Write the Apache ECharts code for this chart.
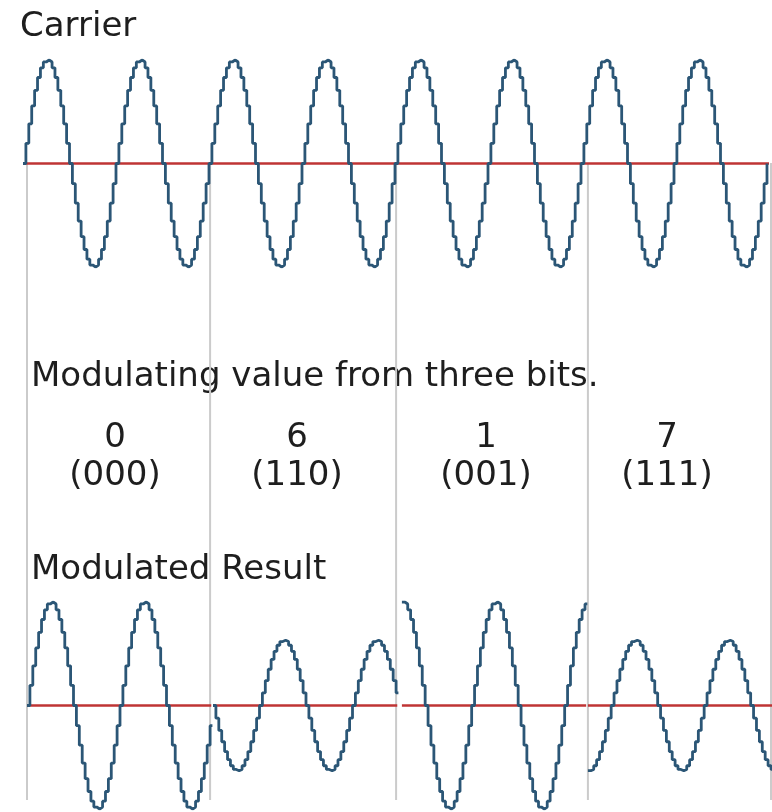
<!DOCTYPE html>
<html>
<head>
<meta charset="utf-8">
<script src="https://cdn.jsdelivr.net/npm/echarts@6/dist/echarts.min.js"></script>
<style>
  html, body { margin: 0; padding: 0; background: #fff; }
  #chart { width: 772px; height: 812px; }
</style>
</head>
<body>
<div id="chart"></div>
<script>
// one carrier period, 32 samples
const carrierPeriod = [
  0, 0.195, 0.383, 0.556, 0.707, 0.831, 0.924, 0.981,
  1, 0.981, 0.924, 0.831, 0.707, 0.556, 0.383, 0.195,
  0, -0.195, -0.383, -0.556, -0.707, -0.831, -0.924, -0.981,
  -1, -0.981, -0.924, -0.831, -0.707, -0.556, -0.383, -0.195
]
const carrierCycles = 8

// the four symbols
const symbolValues = ['0', '6', '1', '7']
const symbolBits = ['(000)', '(110)', '(001)', '(111)']
const symbolAmplitude = [1, 0.63, 1, 0.63]
const symbolPhase = [0, 16, 8, 24]        // offset into carrierPeriod (samples)
const symbolStart = [0, 64, 129, 193]     // sample where each symbol starts
const samplesPerSymbol = 64
const boundaries = [0, 63, 127, 193, 256] // grey separators, in samples

const titles = ['Carrier', 'Modulating value from three bits.', 'Modulated Result']

const chart = echarts.init(document.getElementById('chart'))

const WAVE = '#2b5676'
const RED = '#bf3434'
const GREY = '#cbcbcb'
const FONT = '34px "DejaVu Sans"'
const INK = '#1e1e1e'

// carrier points
const carrierData = []
for (let k = 0; k <= carrierCycles * carrierPeriod.length; k++) {
  carrierData.push([k, carrierPeriod[k % carrierPeriod.length]])
}

const waveSeries = (name, data, xi) => ({
  name, type: 'line', xAxisIndex: xi, yAxisIndex: xi,
  data, step: 'end', symbol: 'none', silent: true, z: 5,
  lineStyle: { color: WAVE, width: 2.8 }
})
const redSeries = (data, xi) => ({
  type: 'line', xAxisIndex: xi, yAxisIndex: xi, data,
  symbol: 'none', silent: true, z: 3,
  lineStyle: { color: RED, width: 2.4 }
})

const series = [
  redSeries([[0, 0], [257, 0]], 0),
  waveSeries('carrier', carrierData, 0)
]

symbolValues.forEach((v, i) => {
  const pts = []
  for (let k = 0; k < samplesPerSymbol; k++) {
    const y = symbolAmplitude[i] * carrierPeriod[(k + symbolPhase[i]) % carrierPeriod.length]
    pts.push([symbolStart[i] + k, y])
  }
  pts.push([symbolStart[i] + samplesPerSymbol - 0.2, pts[pts.length - 1][1]])
  series.push(redSeries([[symbolStart[i], 0], [symbolStart[i] + samplesPerSymbol - 0.6, 0]], 1))
  series.push(waveSeries('symbol ' + v, pts, 1))
})

boundaries.forEach((b) => {
  series.push({
    type: 'line', xAxisIndex: 2, yAxisIndex: 2,
    data: [[b, 0], [b, 1]], symbol: 'none', silent: true, z: 1,
    lineStyle: { color: GREY, width: 2 }
  })
})

const hiddenAxis = (extra) => Object.assign({
  type: 'value', show: false, splitLine: { show: false }
}, extra)

const labelX = [115, 297, 486, 667]
const graphic = [
  { type: 'text', left: 20, top: 10, style: { text: titles[0], font: FONT, fill: INK } },
  { type: 'text', left: 31, top: 360, style: { text: titles[1], font: FONT, fill: INK } },
  { type: 'text', left: 31, top: 553, style: { text: titles[2], font: FONT, fill: INK } }
]
symbolValues.forEach((v, i) => {
  graphic.push({ type: 'text', x: labelX[i], y: 421,
    style: { text: v, font: FONT, fill: INK, align: 'center', verticalAlign: 'top' } })
  graphic.push({ type: 'text', x: labelX[i], y: 459,
    style: { text: symbolBits[i], font: FONT, fill: INK, align: 'center', verticalAlign: 'top' } })
})

const option = {
  animation: false,
  backgroundColor: '#fff',
  grid: [
    { left: 23, top: 60, width: 744, height: 207 },
    { left: 27, top: 602, width: 744, height: 207 },
    { left: 27, top: 163, width: 744, height: 637 }
  ],
  xAxis: [
    hiddenAxis({ gridIndex: 0, min: 0, max: 256 }),
    hiddenAxis({ gridIndex: 1, min: 0, max: 256 }),
    hiddenAxis({ gridIndex: 2, min: 0, max: 256 })
  ],
  yAxis: [
    hiddenAxis({ gridIndex: 0, min: -1, max: 1 }),
    hiddenAxis({ gridIndex: 1, min: -1, max: 1 }),
    hiddenAxis({ gridIndex: 2, min: 0, max: 1 })
  ],
  graphic,
  series
}

chart.setOption(option)
</script>
</body>
</html>
